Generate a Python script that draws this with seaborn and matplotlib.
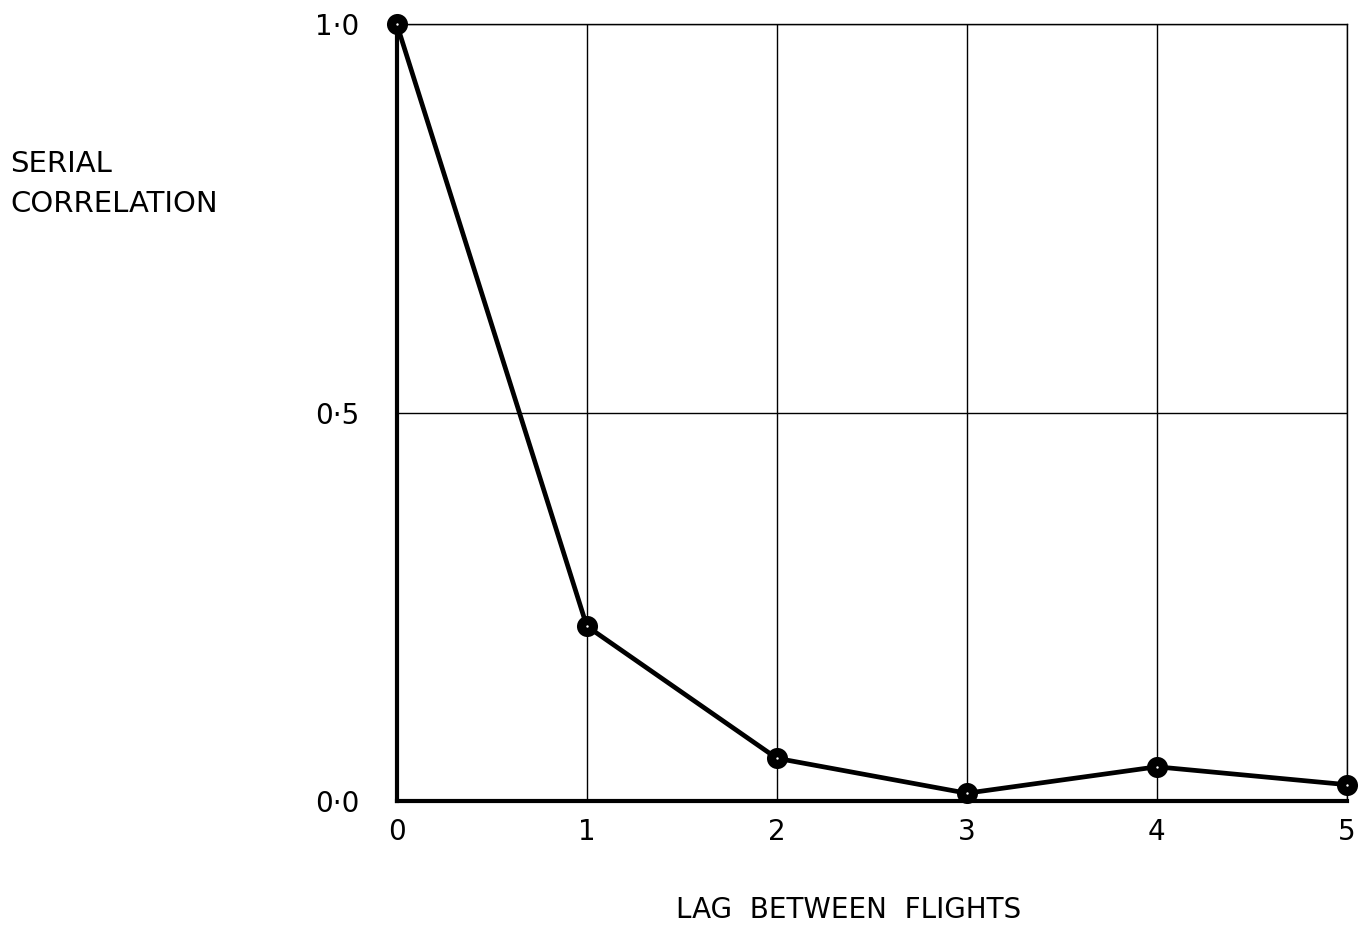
import matplotlib
matplotlib.use("Agg")
import matplotlib.pyplot as plt
import seaborn as sns
import pandas as pd

lags = [0, 1, 2, 3, 4, 5]
corr = [1.0, 0.225, 0.055, 0.010, 0.044, 0.021]
xtick_labels = ["0", "1", "2", "3", "4", "5"]
ytick_vals = [0.0, 0.5, 1.0]
ytick_labels = ["0·0", "0·5", "1·0"]

sns.set_theme(style="white")
plt.rcParams['font.family'] = ['DejaVu Sans']
plt.rcParams['text.color'] = 'black'
plt.rcParams['xtick.color'] = 'black'
plt.rcParams['ytick.color'] = 'black'

df = pd.DataFrame({"lag": lags, "corr": corr})

fig = plt.figure(figsize=(13.59, 9.33), dpi=100)
ax = fig.add_axes([0.292, 0.1415, 0.699, 0.8325])

sns.lineplot(data=df, x="lag", y="corr", ax=ax, color="black", linewidth=3.4,
             clip_on=False, zorder=5)
sns.scatterplot(data=df, x="lag", y="corr", ax=ax, color="black", s=230,
                edgecolor="black", linewidth=0, clip_on=False, zorder=6)
sns.scatterplot(data=df, x="lag", y="corr", ax=ax, color="white", s=3,
                linewidth=0, clip_on=False, zorder=7)

ax.set_xlim(0, 5)
ax.set_ylim(0, 1)
ax.set_xticks(lags)
ax.set_xticklabels(xtick_labels, fontsize=20)
ax.set_yticks(ytick_vals)
ax.set_yticklabels(ytick_labels, fontsize=20)
ax.tick_params(axis="x", length=0, pad=12)
ax.tick_params(axis="y", length=0, pad=27)

ax.grid(True, color="black", linewidth=1.0)
for s in ["top", "right"]:
    ax.spines[s].set_color("black")
    ax.spines[s].set_linewidth(1.0)
for s in ["left", "bottom"]:
    ax.spines[s].set_color("black")
    ax.spines[s].set_linewidth(3.0)

ax.set_xlabel("")
ax.set_ylabel("")
fig.text(10/1359, 1 - 184/933, "SERIAL\nCORRELATION", fontsize=21,
         ha="left", va="center", linespacing=1.55)
fig.text(849/1359, 1 - 910/933, "LAG  BETWEEN  FLIGHTS",
         fontsize=20, ha="center", va="center")

fig.savefig("out.png", dpi=100)
